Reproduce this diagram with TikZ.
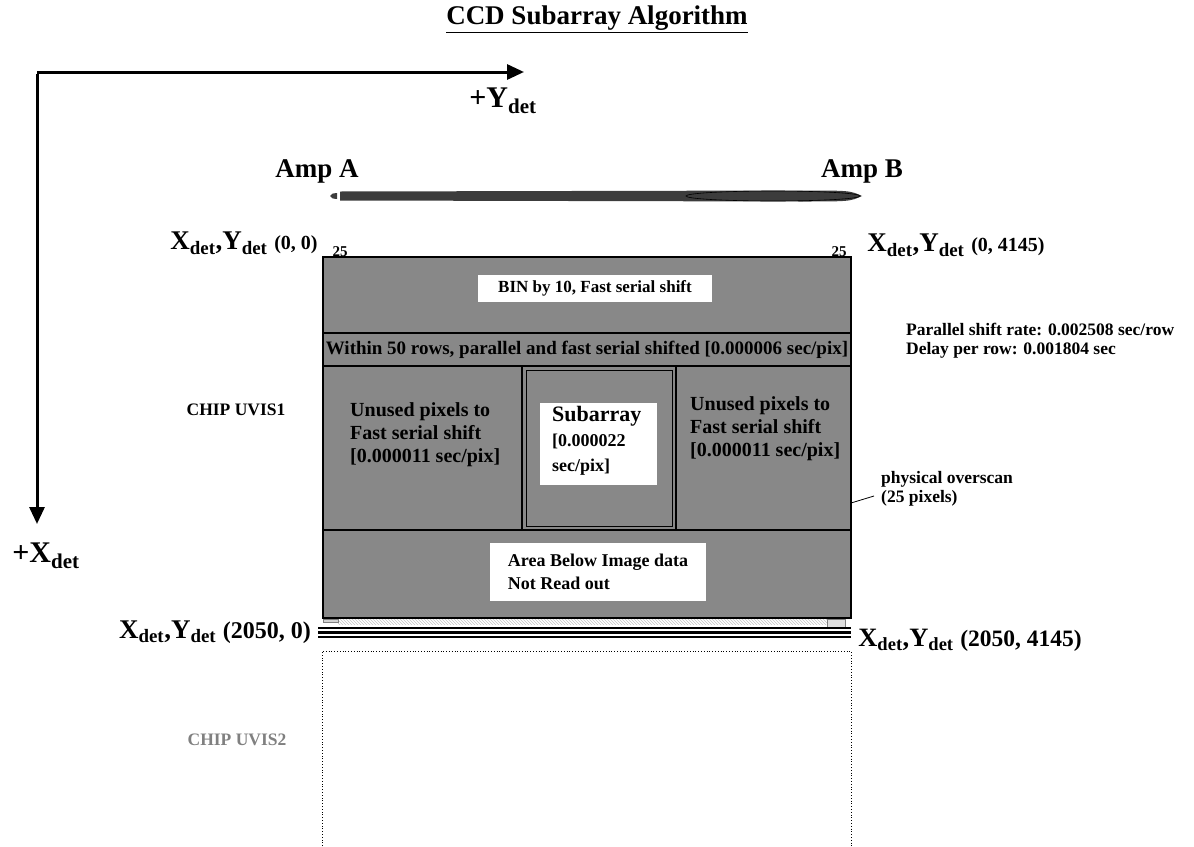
\documentclass[tikz,border=0pt]{standalone}
\usepackage{fontspec}
\setmainfont{Liberation Serif}
\usepackage{tikz}
\usetikzlibrary{arrows.meta,positioning,patterns}
\definecolor{chipgray}{RGB}{136,136,136}
\definecolor{ampgray}{RGB}{60,60,60}
\definecolor{uvisgray}{RGB}{128,128,128}
\newcommand{\fsz}[2]{\fontsize{#1}{#2}\selectfont}
\newcommand{\sdet}{\textsubscript{det}}

\begin{document}
\begin{tikzpicture}[x=1pt,y=-1pt,
    lbl/.style={font=\bfseries, inner sep=0pt},
    whitebox/.style={fill=white, inner sep=0pt, align=center},
    axis/.style={line width=3pt, -{Triangle[length=17pt,width=15pt]}},
    divider/.style={line width=1.6pt}]
    \useasboundingbox (0,0) rectangle (1194,846);
    % Title
    \node[lbl, font=\bfseries\fsz{27}{32}] (title) at (597,19) {\underline{CCD Subarray Algorithm}};
    % Axes
    \coordinate (corner) at (37,72);
    \coordinate (yend) at (524,72);
    \coordinate (xend) at (37,524);
    \draw[axis] (corner) -- (yend);
    \draw[axis] ([yshift=-1.5pt]corner) -- (xend);
    \node[lbl, font=\bfseries\fsz{30}{36}] (plusy) at (503,101) {+Y\sdet};
    \node[lbl, font=\bfseries\fsz{30}{36}] (plusx) at (46,556) {+X\sdet};
    % Amplifiers and serial register
    \node[lbl, font=\bfseries\fsz{27}{32}] (ampA) at (317,171) {Amp A};
    \node[lbl, font=\bfseries\fsz{27}{32}] (ampB) at (862,171) {Amp B};
    \fill[ampgray] (330,196) .. controls (332,193.5) .. (337,193) -- (337,199) .. controls (332,198.5) .. (330,196);
    \fill[ampgray] (340,191.5) -- (800,190.5) .. controls (850,190.5) .. (862,196)
        .. controls (850,201.5) .. (800,201.5) -- (340,200.5) -- cycle;
    \draw[black, line width=0.6pt] (773,196) ellipse [x radius=87, y radius=5];
    % Corner coordinates
    \node[lbl, font=\bfseries\fsz{27}{32}] (xy00) at (244,243) {X\sdet,Y\sdet\ {\fsz{20}{24}(0, 0)}};
    \node[lbl, font=\bfseries\fsz{27}{32}] (xy04145) at (956,245) {X\sdet,Y\sdet\ {\fsz{20}{24}(0, 4145)}};
    \node[lbl, font=\bfseries\fsz{15}{18}] (ovA) at (340,252) {25};
    \node[lbl, font=\bfseries\fsz{15}{18}] (ovB) at (839,252) {25};
    % CHIP UVIS1
    \filldraw[fill=chipgray, draw=black, line width=1.8pt] (323,257) rectangle (851,618);
    \draw[divider] (323,333) -- (851,333);
    \draw[divider] (323,366) -- (851,366);
    \draw[divider] (323,530) -- (851,530);
    \draw[divider] (522,366) -- (522,530);
    \draw[divider] (676,366) -- (676,530);
    \draw[line width=0.8pt] (526,370) rectangle (672,526);
    % Region labels
    \node[whitebox, minimum width=234pt, minimum height=27pt, font=\bfseries\fsz{17}{20}] (bin) at (595,288) {BIN by 10, Fast serial shift};
    \node[lbl, font=\bfseries\fsz{19}{23}] (within) at (587,350) {Within 50 rows, parallel and fast serial shifted [0.000006 sec/pix]};
    \node[lbl, anchor=west, align=left, font=\bfseries\fsz{20}{23}] (unusedL) at (350,435) {Unused pixels to\\Fast serial shift\\{[0.000011 sec/pix]}};
    \node[lbl, anchor=west, align=left, font=\bfseries\fsz{20}{23}] (unusedR) at (690,429) {Unused pixels to\\Fast serial shift\\{[0.000011 sec/pix]}};
    \fill[white] (540,403) rectangle (657,485);
    \node[lbl, anchor=west, align=left, font=\bfseries\fsz{18}{25}] (subarray) at (552,441) {{\fsz{22}{25}Subarray}\\{[0.000022}\\sec/pix]};
    \node[whitebox, minimum width=216pt, minimum height=58pt, font=\bfseries\fsz{18}{23}, align=left] (below) at (598,572) {Area Below Image data\\Not Read out};
    \node[lbl, font=\bfseries\fsz{17.5}{21}] (uvis1) at (236,410) {CHIP UVIS1};
    % Readout rates
    \node[lbl, anchor=west, align=left, font=\bfseries\fsz{17.5}{19}] (rates) at (906,341) {Parallel shift rate: 0.002508 sec/row\\Delay per row: 0.001804 sec};
    % Physical overscan callout
    \node[lbl, anchor=west, align=left, font=\bfseries\fsz{17.5}{19}] (phys) at (881,489) {physical overscan\\(25 pixels)};
    \coordinate (physfoot) at (851,503);
    \draw[line width=0.8pt] (physfoot) -- ([xshift=-7pt,yshift=-7pt]phys.west);
    % Serial overscan strip and chip gap
    \fill[pattern=north west lines, pattern color=gray!45] (338,619) rectangle (827,624);
    \filldraw[fill=gray!35, draw=gray, line width=0.5pt] (323,619) rectangle (338,622);
    \filldraw[fill=gray!25, draw=gray, line width=0.8pt] (827,619) rectangle (845,628);
    \foreach \yy in {628,632.5,637} {
        \draw[line width=2.4pt] (318,\yy) -- (851,\yy);
    }
    \node[lbl, font=\bfseries\fsz{27}{32}] (xy20500) at (215,632) {X\sdet,Y\sdet\ {\fsz{24}{28}(2050, 0)}};
    \node[lbl, font=\bfseries\fsz{26.5}{32}] (xy20504145) at (970,640) {X\sdet,Y\sdet\ {\fsz{23.5}{28}(2050, 4145)}};
    % CHIP UVIS2
    \draw[dotted, line width=0.8pt] (322,846) |- (851,651) -- (851,846);
    \node[lbl, font=\bfseries\fsz{17.5}{21}, text=uvisgray] (uvis2) at (237,740) {CHIP UVIS2};
\end{tikzpicture}
\end{document}
